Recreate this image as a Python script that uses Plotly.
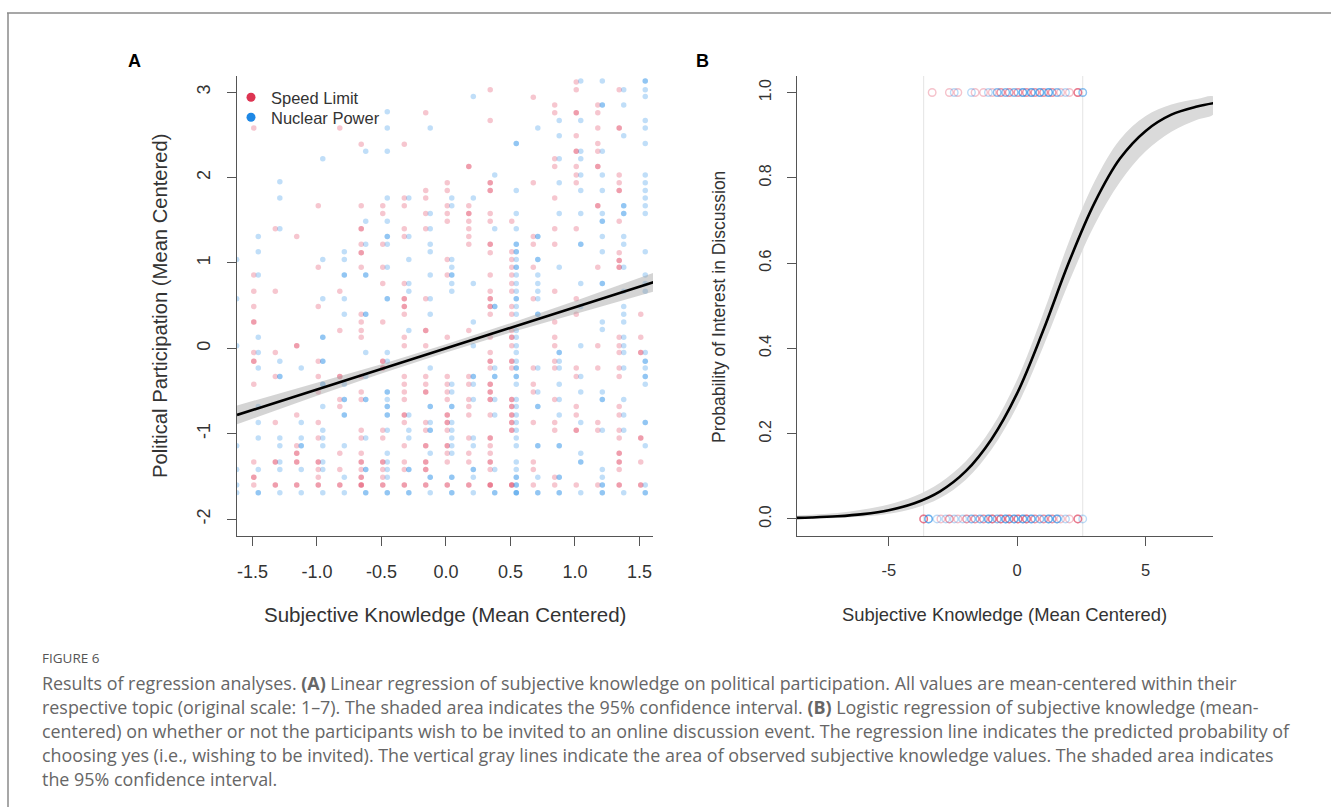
import plotly.graph_objects as go

W, H = 1331, 807

# ---------------- Panel A data ----------------
speed_cols_x = [-1.49, -1.323, -1.157, -0.99, -0.823, -0.657, -0.49, -0.323, -0.157, 0.01,
                0.177, 0.343, 0.51, 0.677, 0.843, 1.01, 1.177, 1.343, 1.51]
speed_cols_y = [
    [2.58, 0.86, 0.67, 0.49, 0.31, 0.31, -0.05, -0.15, -0.15, -0.42, -1.33, -1.51, -1.51, -1.60],
    [1.40, 0.67, -0.05, -0.33, -0.87, -1.33, -1.33, -1.60, -1.60],
    [1.31, 0.03, 0.03, -0.78, -1.14, -1.23, -1.23, -1.33, -1.33, -1.60, -1.60],
    [1.67, 0.95, 0.49, -0.15, -0.33, -0.51, -0.87, -1.05, -1.33, -1.33, -1.42, -1.51, -1.60, -1.60],
    [2.58, 0.67, 0.21, -0.33, -0.33, -0.60, -0.68, -1.23, -1.42, -1.60, -1.60],
    [2.39, 1.67, 1.40, 1.40, 1.22, 1.12, 1.12, 0.95, 0.40, 0.31, 0.21, 0.13, -0.33, -0.51, -0.60,
     -0.96, -1.05, -1.23, -1.33, -1.33, -1.42, -1.51, -1.51, -1.60, -1.60, -1.60],
    [1.67, 1.58, 1.22, 0.95, 0.76, 0.31, -0.15, -0.15, -0.23, -0.23, -0.96, -1.05, -1.33, -1.33,
     -1.42, -1.51, -1.60, -1.60],
    [2.39, 1.76, 1.67, 1.40, 1.31, 0.76, 0.58, 0.58, 0.49, 0.49, 0.40, 0.13, 0.03, -0.33, -0.42,
     -0.51, -0.60, -0.78, -0.78, -0.87, -1.14, -1.33, -1.42, -1.60, -1.60],
    [2.76, 1.85, 1.76, 1.58, 1.40, 0.58, 0.21, 0.21, 0.03, -0.33, -0.42, -0.51, -0.51, -0.87, -0.96,
     -1.14, -1.14, -1.33, -1.33, -1.42, -1.42, -1.60, -1.60],
    [1.94, 1.85, 1.67, 1.58, 1.49, 1.04, 0.86, 0.13, -0.33, -0.42, -0.51, -0.60, -0.78, -0.78, -0.87,
     -0.87, -0.96, -1.14, -1.14, -1.23, -1.33, -1.60, -1.60],
    [2.13, 2.13, 1.67, 1.58, 1.58, 1.49, 1.40, 1.31, 1.22, 0.21, -0.33, -0.42, -0.60, -0.68, -0.78,
     -1.05, -1.23, -1.33, -1.60, -1.60],
    [3.03, 2.67, 1.94, 1.94, 1.85, 1.85, 1.58, 1.49, 1.22, 1.22, 1.12, 0.86, 0.67, 0.58, 0.58, 0.49,
     0.49, 0.40, 0.13, -0.05, -0.15, -0.15, -0.23, -0.42, -0.42, -0.51, -0.51, -0.60, -0.60, -0.78,
     -1.05, -1.05, -1.14, -1.23, -1.33, -1.33, -1.42, -1.60, -1.60, -1.60],
    [1.49, 1.13, 1.04, 0.95, 0.86, 0.76, 0.67, 0.49, 0.40, 0.21, 0.13, 0.13, 0.03, -0.15, -0.15,
     -0.23, -0.60, -0.60, -0.68, -0.68, -0.78, -0.78, -0.87, -0.87, -0.96, -0.96, -1.60, -1.60, -1.60],
    [2.94, 1.94, 1.31, 1.22, 0.95, 0.58, -0.23, -0.42, -0.51, -0.87, -1.33, -1.42, -1.60],
    [2.85, 2.76, 2.22, 2.13, 1.76, 1.40, 1.22, 0.67, 0.31, 0.13, 0.03, -0.15, -0.23, -0.60, -0.87,
     -0.96, -1.51, -1.60],
    [3.12, 3.03, 2.76, 2.76, 2.49, 2.31, 2.31, 2.13, 2.03, 1.94, 1.40, 0.58, 0.40, -0.23, -0.33,
     -0.68, -0.78, -0.96, -0.96, -1.60],
    [2.85, 2.76, 2.58, 2.40, 2.31, 2.13, 2.13, 1.67, 1.67, 0.95, 0.03, -0.23, -0.87, -0.96, -1.60],
    [3.03, 2.58, 2.58, 2.03, 1.94, 1.85, 1.85, 1.49, 1.12, 1.03, 1.03, 0.95, 0.95, 0.13, 0.03, -0.05,
     -0.23, -0.33, -0.68, -0.78, -0.96, -1.05, -1.23, -1.23, -1.33, -1.33, -1.42, -1.60, -1.60],
    [0.40, 0.13, -0.05, -0.05, -1.05, -1.05, -1.33, -1.60, -1.60],
]

nuclear_cols_x = [-1.622, -1.455, -1.288, -1.122, -0.955, -0.788, -0.622, -0.455, -0.288, -0.122,
                  0.045, 0.212, 0.378, 0.545, 0.712, 0.878, 1.045, 1.212, 1.378, 1.545]
nuclear_cols_y = [
    [1.04, 0.58, 0.03, -1.14, -1.42, -1.60, -1.69],
    [1.31, 1.13, 0.86, 0.13, -0.05, -0.23, -0.68, -0.87, -1.05, -1.42, -1.69, -1.69],
    [1.95, 1.76, 1.40, -0.15, -0.33, -0.33, -1.05, -1.14, -1.33, -1.42, -1.69],
    [-0.23, -0.87, -1.05, -1.14, -1.14, -1.42, -1.69],
    [2.22, 1.04, 0.58, 0.13, 0.13, -0.15, -0.15, -0.42, -0.42, -0.68, -0.96, -1.05, -1.14, -1.33,
     -1.42, -1.69],
    [1.13, 1.04, 0.86, 0.86, 0.58, 0.40, -0.42, -0.60, -0.60, -0.78, -0.78, -1.14, -1.51, -1.69],
    [2.31, 1.49, 1.22, 0.86, 0.86, 0.40, 0.40, -0.05, -0.33, -0.60, -0.60, -1.05, -1.42, -1.42,
     -1.69, -1.69],
    [2.77, 2.58, 2.31, 1.76, 1.49, 1.31, 1.31, 1.22, 0.95, 0.58, 0.58, -0.05, -0.15, -0.51, -0.51,
     -0.60, -0.68, -0.68, -0.78, -0.78, -0.96, -1.23, -1.33, -1.42, -1.51, -1.69, -1.69],
    [1.76, 1.31, 1.04, 0.76, 0.67, 0.21, -0.78, -0.96, -1.05, -1.42, -1.42, -1.69, -1.69],
    [2.58, 1.58, 1.40, 1.22, 1.13, 0.86, 0.58, 0.40, -0.23, -0.68, -0.68, -0.87, -0.96, -0.96,
     -1.23, -1.51, -1.51, -1.69],
    [1.76, 1.67, 1.04, 0.95, 0.86, 0.86, 0.76, 0.67, -0.42, -0.51, -0.68, -0.68, -0.87, -0.96,
     -1.05, -1.14, -1.23, -1.51, -1.51, -1.69, -1.69],
    [2.95, 1.76, 0.76, 0.31, 0.03, -0.33, -0.33, -0.42, -0.60, -1.05, -1.14, -1.42, -1.42, -1.51,
     -1.69],
    [2.03, 1.40, 0.49, 0.49, -0.23, -0.33, -0.33, -0.60, -0.78, -1.42, -1.69, -1.69],
    [2.40, 2.40, 1.85, 1.58, 1.40, 1.22, 1.22, 1.13, 1.13, 1.04, 0.95, 0.95, 0.86, 0.76, 0.67, 0.58,
     0.58, 0.49, 0.40, 0.21, 0.13, 0.03, -0.05, -0.15, -0.23, -0.23, -0.33, -0.33, -0.42, -0.60,
     -0.68, -0.78, -0.87, -0.96, -1.05, -1.14, -1.33, -1.42, -1.51, -1.51, -1.60, -1.60, -1.69,
     -1.69, -1.69],
    [2.58, 1.31, 1.31, 1.04, 1.04, 0.86, 0.76, 0.67, 0.58, 0.40, 0.40, -0.23, -0.51, -0.68, -0.68,
     -1.14, -1.14, -1.51, -1.69, -1.69],
    [2.67, 2.49, 2.22, 1.94, 1.58, 0.95, -0.05, -0.05, -0.15, -0.23, -0.42, -0.60, -0.78, -1.14,
     -1.14, -1.51, -1.51, -1.69, -1.69],
    [3.13, 2.67, 2.31, 2.22, 2.03, 1.85, 1.58, 1.22, 1.22, 0.76, 0.49, 0.03, -0.33, -0.51, -0.87,
     -1.23, -1.33, -1.33, -1.69],
    [3.13, 2.85, 2.85, 2.31, 2.03, 1.85, 1.58, 1.49, 1.49, 1.31, 1.13, 0.76, 0.76, 0.31, 0.22,
     -0.51, -0.60, -0.60, -0.96, -1.42, -1.51, -1.60, -1.60, -1.69, -1.69],
    [3.03, 2.85, 2.49, 1.67, 1.67, 1.58, 1.58, 1.31, 1.22, 0.95, 0.67, 0.49, 0.40, 0.31, 0.13, 0.03,
     -0.05, -0.23, -0.60, -0.78, -0.96, -1.69],
    [3.13, 3.13, 3.03, 2.95, 2.67, 2.58, 2.40, 2.03, 1.94, 1.85, 1.76, 1.67, 1.58, 1.13, 0.86, 0.76,
     0.67, -0.05, -0.15, -0.15, -0.23, -0.33, -0.33, -0.42, -0.87, -0.87, -1.14, -1.60, -1.69, -1.69],
]

# linear fit with 95% CI (panel A)
fit_x = [-1.62, -1.0, -0.5, 0.0, 0.5, 1.0, 1.62]
fit_y = [-0.78, -0.48, -0.24, 0.0, 0.24, 0.48, 0.78]
fit_lo = [-0.89, -0.555, -0.295, -0.048, 0.185, 0.405, 0.67]
fit_hi = [-0.67, -0.405, -0.185, 0.048, 0.295, 0.555, 0.89]

# ---------------- Panel B data ----------------
speed_yes_x = [-3.31, -2.64, -2.31, -1.64, -1.31, -0.97, -0.64, -0.64, -0.31, -0.31, 0.03, 0.03,
               0.36, 0.36, 0.69, 0.69, 1.03, 1.03, 1.36, 1.36, 1.69, 2.03, 2.36, 2.36, 2.36]
nuclear_yes_x = [-2.45, -1.78, -1.12, -0.78, -0.78, -0.45, -0.45, -0.12, -0.12, 0.22, 0.22, 0.22,
                 0.55, 0.55, 0.55, 0.88, 0.88, 0.88, 1.22, 1.22, 1.22, 1.55, 1.55, 1.88, 2.55, 2.55]
speed_no_x = [-3.64, -3.64, -3.64, -2.97, -2.64, -2.64, -2.31, -1.97, -1.97, -1.64, -1.64, -1.31,
              -1.31, -0.97, -0.97, -0.97, -0.64, -0.64, -0.64, -0.31, -0.31, -0.31, 0.03, 0.03, 0.03,
              0.36, 0.36, 0.36, 0.69, 0.69, 1.03, 1.03, 1.36, 1.36, 1.69, 2.03, 2.36, 2.36, 2.36]
nuclear_no_x = [-3.45, -3.45, -3.45, -3.12, -2.78, -2.45, -2.12, -1.78, -1.78, -1.45, -1.45, -1.12,
                -1.12, -1.12, -0.78, -0.78, -0.45, -0.45, -0.45, -0.12, -0.12, -0.12, 0.22, 0.22,
                0.22, 0.55, 0.55, 0.55, 0.88, 0.88, 1.22, 1.22, 1.22, 1.55, 1.55, 1.55, 1.88, 2.55]
observed_range = [-3.64, 2.55]

logit_x = [-8.6, -8, -7, -6, -5, -4, -3, -2, -1, 0, 1, 2, 3, 4, 5, 6, 7, 7.65]
logit_p = [0.0024, 0.0034, 0.0062, 0.0113, 0.0204, 0.0367, 0.0648, 0.112, 0.187, 0.295, 0.440,
           0.600, 0.740, 0.845, 0.910, 0.948, 0.967, 0.975]
logit_lo = [0.0007, 0.0011, 0.0025, 0.0055, 0.012, 0.025, 0.049, 0.092, 0.163, 0.265, 0.402,
            0.553, 0.688, 0.790, 0.862, 0.908, 0.936, 0.950]
logit_hi = [0.008, 0.010, 0.014, 0.022, 0.034, 0.053, 0.085, 0.135, 0.213, 0.327, 0.480,
            0.648, 0.790, 0.890, 0.945, 0.972, 0.985, 0.990]

RED = "rgb(221,52,82)"
BLUE = "rgb(30,136,229)"
AXC = "#555555"
TXT = "#333333"
FONT = "Liberation Sans, Arial, sans-serif"


def flatten(cols_x, cols_y):
    xs, ys = [], []
    for cx, col in zip(cols_x, cols_y):
        xs += [cx] * len(col)
        ys += col
    return xs, ys


fig = go.Figure()

# Panel A
sx, sy = flatten(speed_cols_x, speed_cols_y)
nx, ny = flatten(nuclear_cols_x, nuclear_cols_y)
fig.add_trace(go.Scatter(x=sx, y=sy, mode="markers", showlegend=False, xaxis="x", yaxis="y",
                         marker=dict(size=5.5, color=RED, opacity=0.28, line=dict(width=0))))
fig.add_trace(go.Scatter(x=nx, y=ny, mode="markers", showlegend=False, xaxis="x", yaxis="y",
                         marker=dict(size=5.5, color=BLUE, opacity=0.28, line=dict(width=0))))
fig.add_trace(go.Scatter(x=fit_x + fit_x[::-1], y=fit_hi + fit_lo[::-1], fill="toself",
                         fillcolor="rgba(160,160,160,0.45)", line=dict(width=0), mode="lines",
                         showlegend=False, xaxis="x", yaxis="y", hoverinfo="skip"))
fig.add_trace(go.Scatter(x=fit_x, y=fit_y, mode="lines", line=dict(color="black", width=2.6),
                         showlegend=False, xaxis="x", yaxis="y"))
# legend entries (one legend box each so the spacing can follow the reference)
fig.add_trace(go.Scatter(x=[None], y=[None], mode="markers", name="Speed Limit", legend="legend",
                         marker=dict(size=9, color=RED), xaxis="x", yaxis="y"))
fig.add_trace(go.Scatter(x=[None], y=[None], mode="markers", name="Nuclear Power", legend="legend2",
                         marker=dict(size=9, color=BLUE), xaxis="x", yaxis="y"))

# Panel B
fig.add_trace(go.Scatter(x=logit_x + logit_x[::-1], y=logit_hi + logit_lo[::-1], fill="toself",
                         fillcolor="rgb(218,218,218)", line=dict(width=0, shape="spline"),
                         mode="lines", showlegend=False, xaxis="x2", yaxis="y2", hoverinfo="skip"))
for xs, val, col in [(speed_no_x, 0, RED), (nuclear_no_x, 0, BLUE),
                     (speed_yes_x, 1, RED), (nuclear_yes_x, 1, BLUE)]:
    fig.add_trace(go.Scatter(x=xs, y=[val] * len(xs), mode="markers", showlegend=False,
                             xaxis="x2", yaxis="y2",
                             marker=dict(symbol="circle-open", size=7.5, color=col, opacity=0.3,
                                         line=dict(width=1.4, color=col))))
fig.add_trace(go.Scatter(x=logit_x, y=logit_p, mode="lines",
                         line=dict(color="black", width=2.6, shape="spline"),
                         showlegend=False, xaxis="x2", yaxis="y2"))

ydom = [(H - 536) / H, (H - 76) / H]
common = dict(showgrid=False, zeroline=False, showline=True, linecolor=AXC, linewidth=1,
              ticks="outside", ticklen=9, tickcolor=AXC, tickwidth=1, mirror=False)
leg = dict(xanchor="left", yanchor="top", font=dict(size=16.5, color=TXT),
           bgcolor="rgba(0,0,0,0)", tracegroupgap=0)

fig.update_layout(
    width=W, height=H, margin=dict(l=0, r=0, t=0, b=0),
    paper_bgcolor="white", plot_bgcolor="white",
    font=dict(family=FONT, color=TXT),
    xaxis=dict(domain=[237 / W, 653 / W], range=[-1.62, 1.605], anchor="y",
               tickvals=[-1.5, -1.0, -0.5, 0.0, 0.5, 1.0, 1.5],
               ticktext=["-1.5", "-1.0", "-0.5", "0.0", "0.5", "1.0", "1.5"],
               tickfont=dict(size=18, color=TXT), ticklabelstandoff=10, **common),
    yaxis=dict(domain=ydom, range=[-2.198, 3.19], anchor="x",
               tickvals=[-2, -1, 0, 1, 2, 3], ticktext=["-2", "-1", "0", "1", "2", "3"],
               tickangle=-90, tickfont=dict(size=18, color=TXT), ticklabelstandoff=10, **common),
    xaxis2=dict(domain=[797 / W, 1213 / W], range=[-8.57, 7.62], anchor="y2",
                tickvals=[-5, 0, 5], ticktext=["-5", "0", "5"],
                tickfont=dict(size=16.5, color=TXT), ticklabelstandoff=10, **common),
    yaxis2=dict(domain=ydom, range=[-0.04, 1.0387], anchor="x2",
                tickvals=[0, 0.2, 0.4, 0.6, 0.8, 1.0],
                ticktext=["0.0", "0.2", "0.4", "0.6", "0.8", "1.0"],
                tickangle=-90, tickfont=dict(size=16, color=TXT), ticklabelstandoff=10, **common),
    legend=dict(x=231 / W, y=1 - 80 / H, **leg),
    legend2=dict(x=231 / W, y=1 - 100 / H, **leg),
)

for xv in observed_range:
    fig.add_shape(type="line", xref="x2", yref="y2 domain", x0=xv, x1=xv, y0=0, y1=1,
                  line=dict(color="#E4E4E4", width=1), layer="below")

# frame lines of the figure
fig.add_shape(type="line", xref="paper", yref="paper", x0=7 / W, x1=1, y0=1 - 13 / H, y1=1 - 13 / H,
              line=dict(color="#8a8a8a", width=1.5))
fig.add_shape(type="line", xref="paper", yref="paper", x0=8 / W, x1=8 / W, y0=0, y1=1 - 13 / H,
              line=dict(color="#8a8a8a", width=1.5))


def ann(text, px, py, size, angle=0, anchor="center", bold=False, family=FONT, color=TXT):
    fig.add_annotation(text=("<b>%s</b>" % text) if bold else text, x=px / W, y=1 - py / H,
                       xref="paper", yref="paper", showarrow=False, textangle=angle,
                       xanchor=anchor, yanchor="middle",
                       font=dict(size=size, family=family, color=color))


ann("A", 134, 61, 18, bold=True, color="black")
ann("B", 702, 61, 18, bold=True, color="black")
ann("Political Participation (Mean Centered)", 160, 306, 20.2, angle=-90)
ann("Subjective Knowledge (Mean Centered)", 445, 614, 20.5)
ann("Probability of Interest in Discussion", 719, 307, 17.5, angle=-90)
ann("Subjective Knowledge (Mean Centered)", 1004, 614, 18.4)

CAP = "Open Sans, Lato, sans-serif"
ann("FIGURE 6", 40, 658, 13.5, anchor="left", family=CAP, color="#555555")
caption_lines = [
    "Results of regression analyses. <b>(A)</b> Linear regression of subjective knowledge on political participation. All values are mean-centered within their",
    "respective topic (original scale: 1–7). The shaded area indicates the 95% confidence interval. <b>(B)</b> Logistic regression of subjective knowledge (mean-",
    "centered) on whether or not the participants wish to be invited to an online discussion event. The regression line indicates the predicted probability of",
    "choosing yes (i.e., wishing to be invited). The vertical gray lines indicate the area of observed subjective knowledge values. The shaded area indicates",
    "the 95% confidence interval.",
]
for i, line in enumerate(caption_lines):
    ann(line, 40, 683 + 24 * i, 17.9, anchor="left", family=CAP, color="#666666")

fig.write_html("out.html")
